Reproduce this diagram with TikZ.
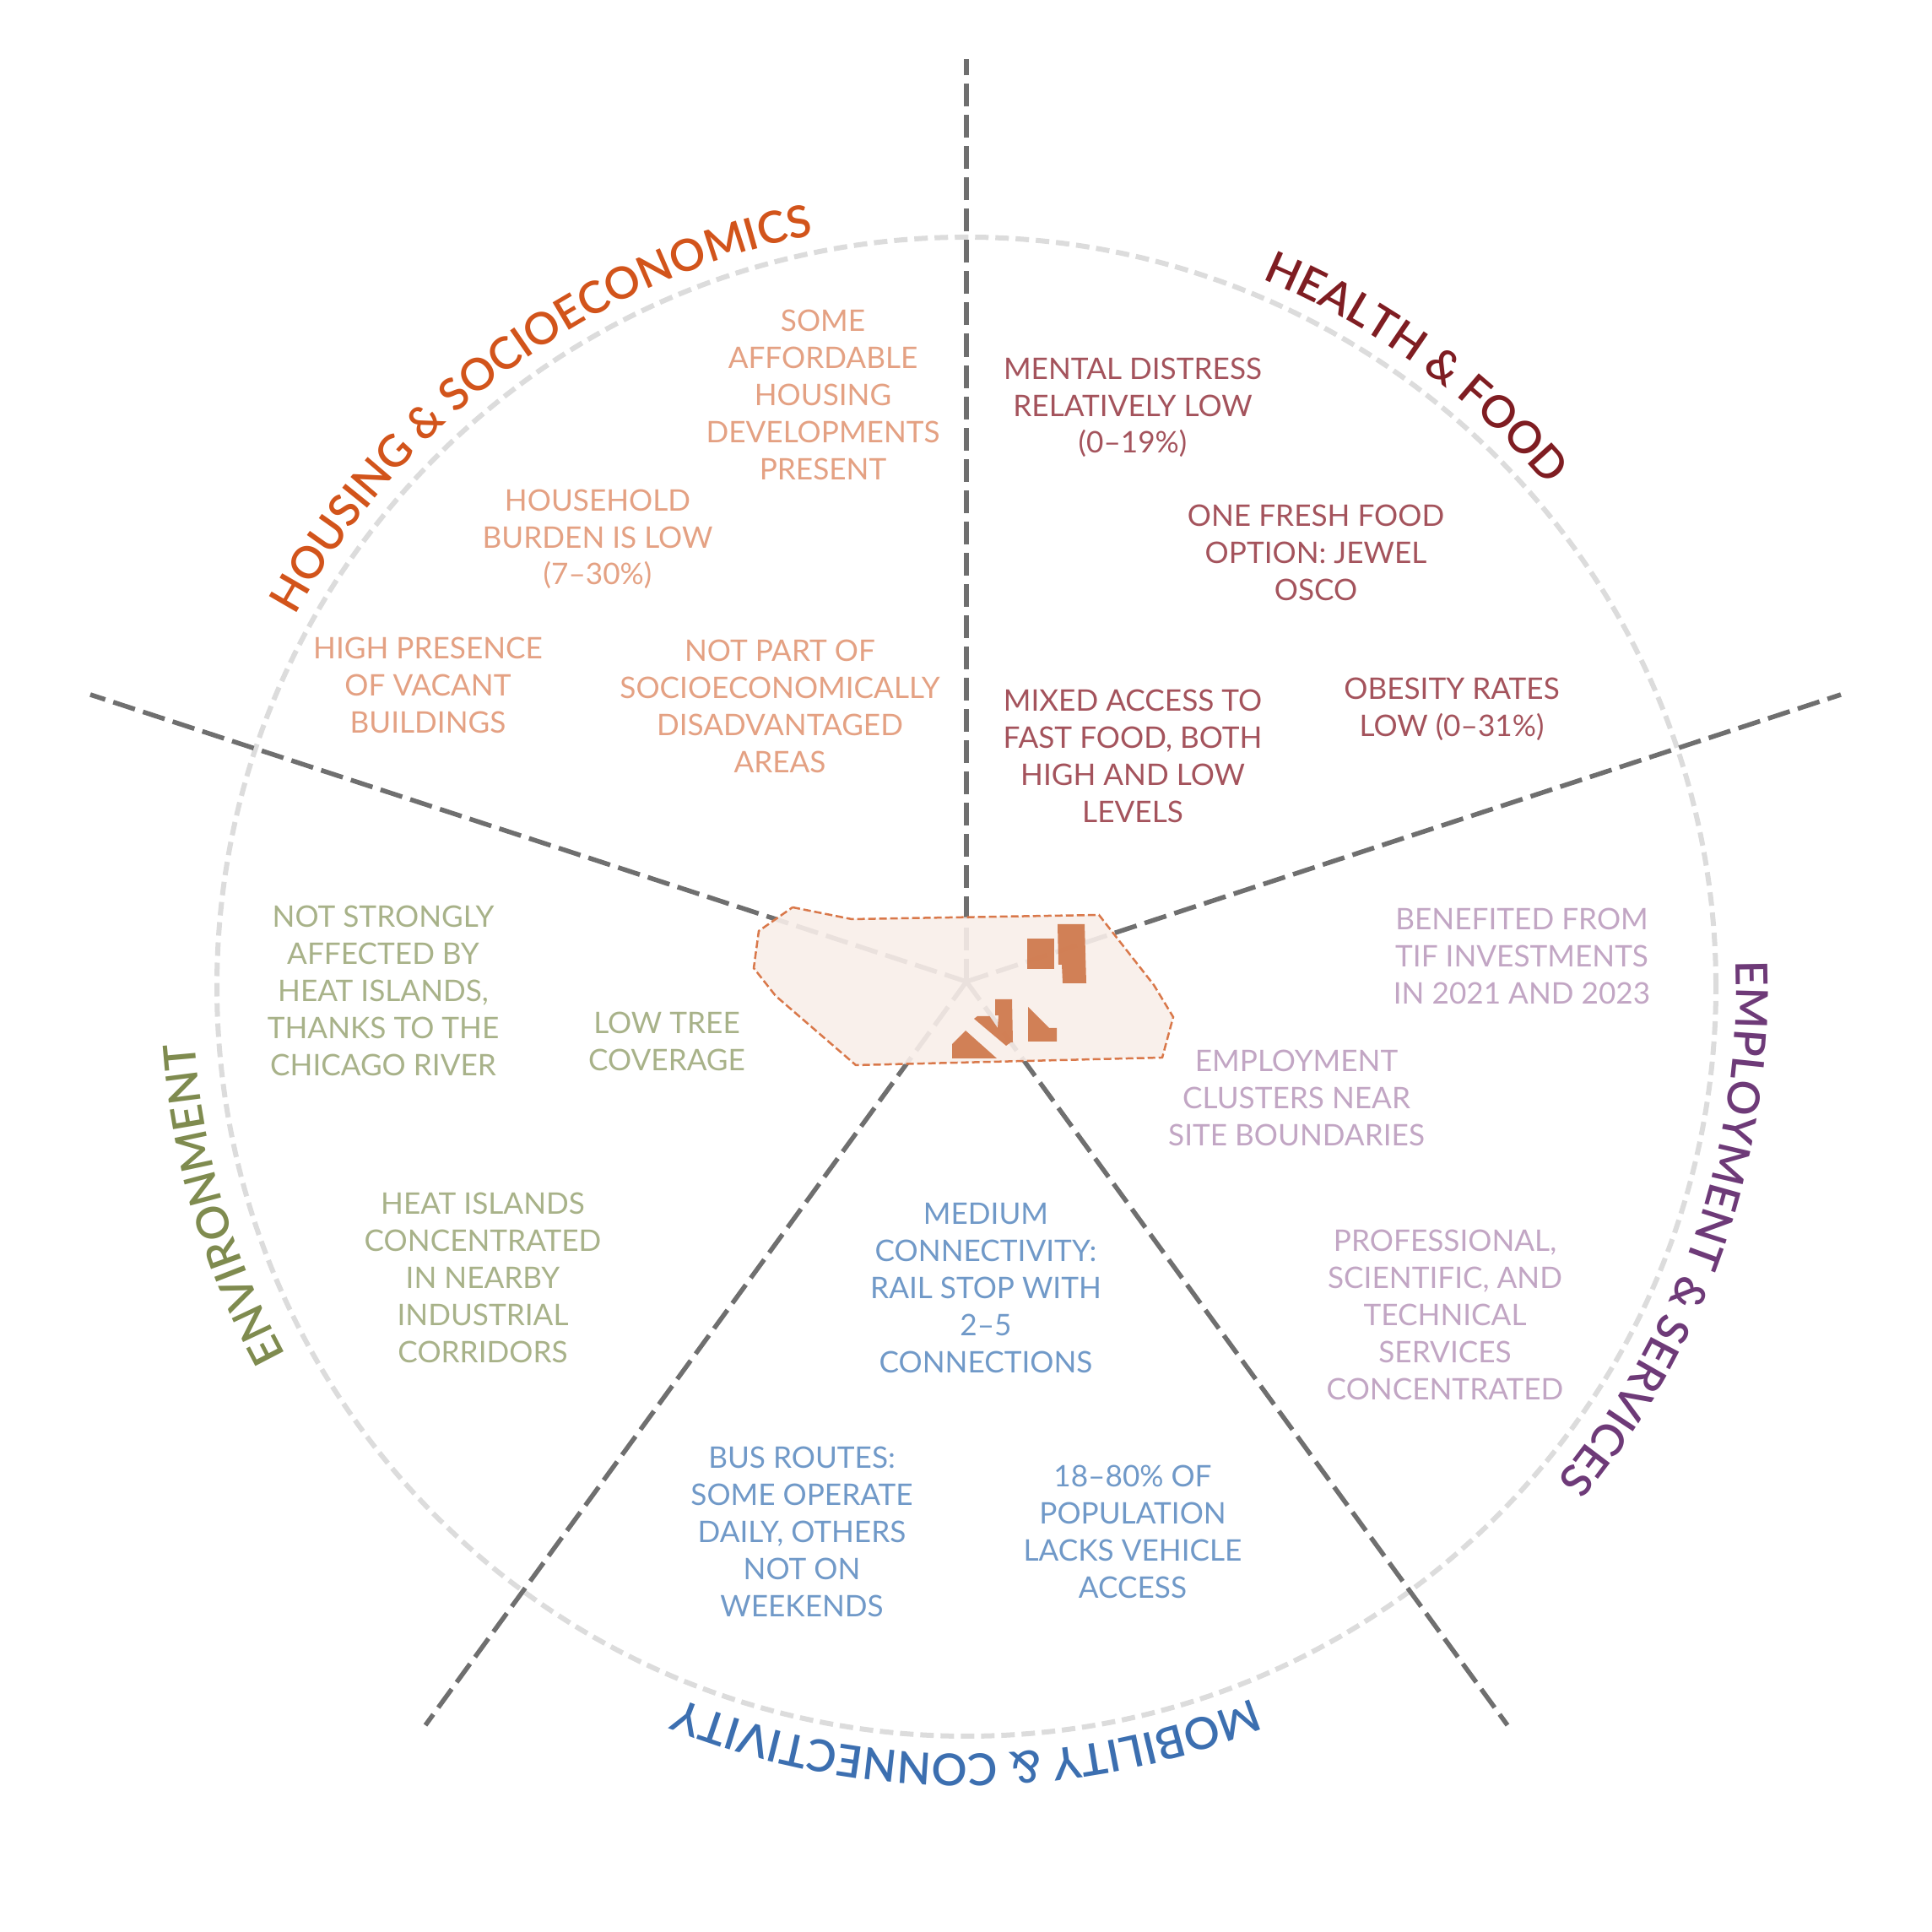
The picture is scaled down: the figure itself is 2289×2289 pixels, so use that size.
\documentclass[tikz,border=0pt]{standalone}
\usepackage{fontspec}
\setmainfont{Lato}
\newfontfamily\headfont{Lato}[UprightFont=* Semibold]
\usetikzlibrary{decorations.text}
\definecolor{housing}{HTML}{D2541B}
\definecolor{housinglight}{HTML}{E4A183}
\definecolor{health}{HTML}{7F1D22}
\definecolor{healthlight}{HTML}{A4535C}
\definecolor{employ}{HTML}{6E3A78}
\definecolor{employlight}{HTML}{C2A6C4}
\definecolor{mobility}{HTML}{3C6FB0}
\definecolor{mobilitylight}{HTML}{7099C8}
\definecolor{environ}{HTML}{7F8B4F}
\definecolor{environlight}{HTML}{A8B289}
\definecolor{ringgray}{HTML}{DCDCDC}
\definecolor{spokegray}{HTML}{6F6F6F}
\definecolor{siteline}{HTML}{D9784A}
\definecolor{sitefill}{HTML}{F8EEE9}
\definecolor{building}{HTML}{D07A4E}

\begin{document}
\begin{tikzpicture}[
  x=0.01cm,y=0.01cm,
  note/.style={align=center,inner sep=0pt,font=\fontsize{10}{12.47}\selectfont},
  ring/.style={draw=ringgray,line width=0.06cm,dash pattern=on 0.16cm off 0.08cm},
  spoke/.style={draw=spokegray,line width=0.055cm,dash pattern=on 0.27cm off 0.1cm},
  site/.style={draw=siteline,line width=0.025cm,dash pattern=on 0.09cm off 0.04cm,fill=sitefill,fill opacity=0.9},
  block/.style={fill=building,opacity=0.95},
  head/.style 2 args={decorate,decoration={text along path,text align=center,
    text={|\headfont\fontsize{14.9}{14.9}\selectfont\color{#1}|#2}}}
]
  \useasboundingbox (0,0) rectangle (2289,2289);
  \coordinate (hub) at (1145,1126);
  \coordinate (ringcentre) at (1145,1120);
  \coordinate (topend) at (1145,2219);
  \coordinate (rightend) at (2181,1466);
  \coordinate (leftend) at (107,1466);
  \coordinate (lowleftend) at (504,245);
  \coordinate (lowrightend) at (1786,245);

  \draw[ring] (ringcentre) circle[radius=888];
  \draw[spoke] (hub) -- (topend);
  \draw[spoke] (hub) -- (rightend);
  \draw[spoke] (hub) -- (leftend);
  \draw[spoke] (hub) -- (lowleftend);
  \draw[spoke] (hub) -- (lowrightend);

  \draw[site] (939,1214) -- (1009,1200) -- (1302,1205) -- (1367,1122) -- (1390,1084) -- (1377,1036)
    -- (1014,1027) -- (919,1109) -- (893,1142) -- (899,1186) -- cycle;
  \fill[block] (1217,1177) rectangle (1249,1141);
  \fill[block] (1253,1194) -- (1285,1194) -- (1287,1124) -- (1259,1124) -- (1258,1146) -- (1254,1146) -- cycle;
  \fill[block] (1128,1052) -- (1144,1068) -- (1181,1035) -- (1128,1035) -- cycle;
  \fill[block] (1179,1105) -- (1199,1105) -- (1200,1054) -- (1197.5,1054) -- (1192,1050) -- (1154,1082)
    -- (1158,1085) -- (1172.5,1085) -- (1182,1071) -- (1183,1086) -- (1179,1086) -- cycle;
  \fill[block] (1218,1096) -- (1243,1071) -- (1252,1071) -- (1252,1055) -- (1218,1055) -- cycle;

  \path[head={housing}{HOUSING {\&} SOCIOECONOMICS}] (ringcentre) ++(157:909) arc[start angle=157,end angle=95.6,radius=909];
  \path[head={health}{HEALTH {\&} FOOD}] (ringcentre) ++(74:909) arc[start angle=74,end angle=34,radius=909];
  \path[head={employ}{EMPLOYMENT {\&} SERVICES}] (ringcentre) ++(8:912) arc[start angle=8,end angle=-46,radius=912];
  \path[head={mobility}{MOBILITY {\&} CONNECTIVITY}] (ringcentre) ++(-61:909) arc[start angle=-61,end angle=-119,radius=909];
  \path[head={environ}{ENVIRONMENT}] (ringcentre) ++(212:917) arc[start angle=212,end angle=180.6,radius=917];

  \node[note,text=housinglight] (afford) at (975,1821) {SOME\\AFFORDABLE\\HOUSING\\DEVELOPMENTS\\PRESENT};
  \node[note,text=housinglight] (burden) at (708,1650) {HOUSEHOLD\\BURDEN IS LOW\\(7–30\%)};
  \node[note,text=housinglight] (vacant) at (507,1477) {HIGH PRESENCE\\OF VACANT\\BUILDINGS};
  \node[note,text=housinglight] (disadv) at (924,1452) {NOT PART OF\\SOCIOECONOMICALLY\\DISADVANTAGED\\AREAS};

  \node[note,text=healthlight] (mental) at (1342,1806) {MENTAL DISTRESS\\RELATIVELY LOW\\(0–19\%)};
  \node[note,text=healthlight] (fresh) at (1559,1634) {ONE FRESH FOOD\\OPTION: JEWEL\\OSCO};
  \node[note,text=healthlight] (fast) at (1342,1393) {MIXED ACCESS TO\\FAST FOOD, BOTH\\HIGH AND LOW\\LEVELS};
  \node[note,text=healthlight] (obesity) at (1720,1449) {OBESITY RATES\\LOW (0–31\%)};

  \node[note,text=employlight] (tif) at (1803,1156) {BENEFITED FROM\\TIF INVESTMENTS\\IN 2021 AND 2023};
  \node[note,text=employlight] (clusters) at (1536,988) {EMPLOYMENT\\CLUSTERS NEAR\\SITE BOUNDARIES};
  \node[note,text=employlight] (services) at (1712,731) {PROFESSIONAL,\\SCIENTIFIC, AND\\TECHNICAL\\SERVICES\\CONCENTRATED};

  \node[note,text=mobilitylight] (rail) at (1168,763) {MEDIUM\\CONNECTIVITY:\\RAIL STOP WITH\\2–5\\CONNECTIONS};
  \node[note,text=mobilitylight] (bus) at (950,474) {BUS ROUTES:\\SOME OPERATE\\DAILY, OTHERS\\NOT ON\\WEEKENDS};
  \node[note,text=mobilitylight] (vehicle) at (1342,474) {18–80\% OF\\POPULATION\\LACKS VEHICLE\\ACCESS};

  \node[note,text=environlight] (river) at (454,1115) {NOT STRONGLY\\AFFECTED BY\\HEAT ISLANDS,\\THANKS TO THE\\CHICAGO RIVER};
  \node[note,text=environlight] (tree) at (790,1055) {LOW TREE\\COVERAGE};
  \node[note,text=environlight] (heat) at (572,775) {HEAT ISLANDS\\CONCENTRATED\\IN NEARBY\\INDUSTRIAL\\CORRIDORS};
\end{tikzpicture}
\end{document}
